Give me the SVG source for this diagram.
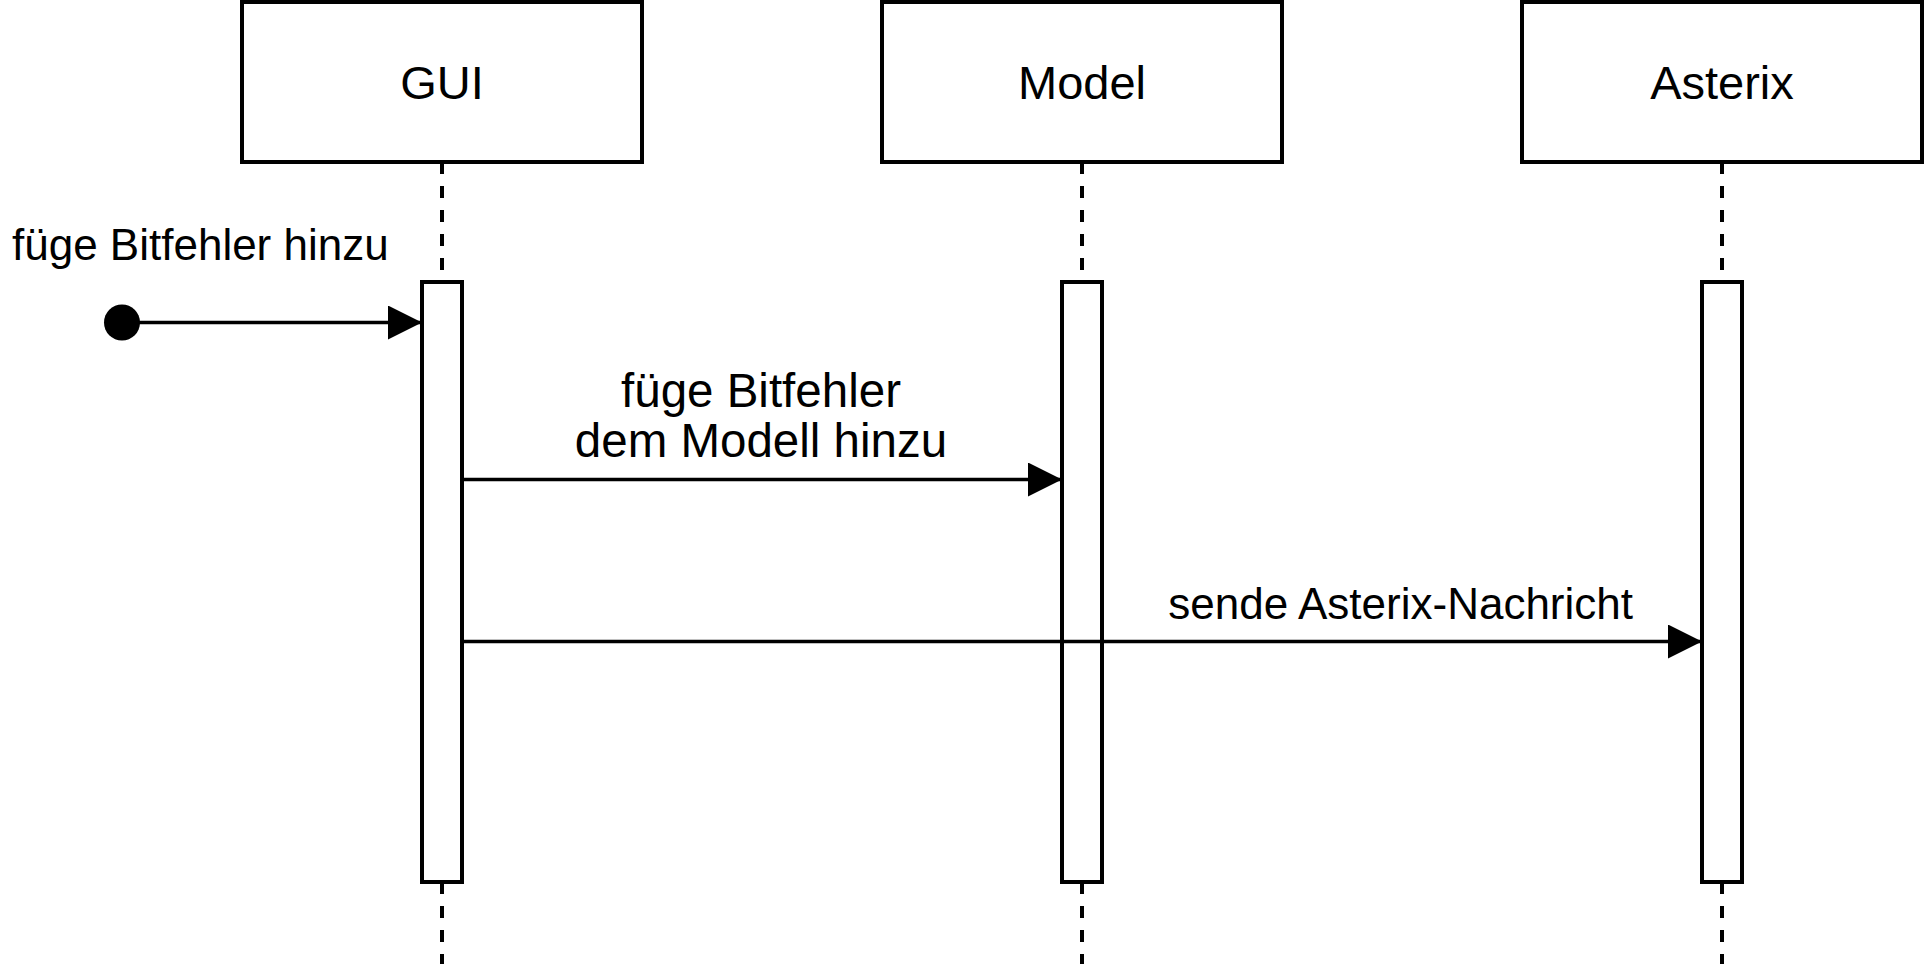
<svg xmlns="http://www.w3.org/2000/svg" width="1924" height="964" viewBox="0 0 1924 964">
  <style>
    .box { fill: #ffffff; stroke: #000000; stroke-width: 4; }
    .act { fill: #ffffff; stroke: #000000; stroke-width: 4; }
    .life { stroke: #000000; stroke-width: 4; stroke-dasharray: 12 12; fill: none; }
    .msg { stroke: #000000; stroke-width: 3.5; fill: none; marker-end: url(#arrow); }
    .hdr { font-family: "Liberation Sans", Arial, sans-serif; font-size: 47px; fill: #000000; text-anchor: middle; }
    .lbl { font-family: "Liberation Sans", Arial, sans-serif; font-size: 44px; fill: #000000; }
    .lbl2 { font-family: "Liberation Sans", Arial, sans-serif; font-size: 47.5px; fill: #000000; text-anchor: middle; }
  </style>
  <defs>
    <marker id="arrow" markerUnits="userSpaceOnUse" markerWidth="34" markerHeight="34" refX="34" refY="17" orient="auto">
      <path d="M0,0 L34,17 L0,34 Z" fill="#000000"/>
    </marker>
  </defs>
  <rect width="1924" height="964" fill="#ffffff"/>

  <g id="lifelines">
    <line class="life" x1="442" y1="162" x2="442" y2="964"/>
    <line class="life" x1="1082" y1="162" x2="1082" y2="964"/>
    <line class="life" x1="1722" y1="162" x2="1722" y2="964"/>
  </g>

  <g id="node-gui">
    <rect class="box" x="242" y="2" width="400" height="160"/>
    <text class="hdr" x="442" y="99">GUI</text>
    <rect class="act" x="422" y="282" width="40" height="600"/>
  </g>
  <g id="node-model">
    <rect class="box" x="882" y="2" width="400" height="160"/>
    <text class="hdr" x="1082" y="99">Model</text>
    <rect class="act" x="1062" y="282" width="40" height="600"/>
  </g>
  <g id="node-asterix">
    <rect class="box" x="1522" y="2" width="400" height="160"/>
    <text class="hdr" x="1722" y="99">Asterix</text>
    <rect class="act" x="1702" y="282" width="40" height="600"/>
  </g>
  <g id="node-start">
    <circle cx="122" cy="322.5" r="18" fill="#000000"/>
  </g>

  <g id="connectors">
    <line class="msg" x1="122" y1="322.5" x2="422" y2="322.5"/>
    <text class="lbl" x="12" y="260">füge Bitfehler hinzu</text>
    <line class="msg" x1="462" y1="479.5" x2="1062" y2="479.5"/>
    <text class="lbl2" x="761" y="407">füge Bitfehler</text>
    <text class="lbl2" x="761" y="457">dem Modell hinzu</text>
    <line class="msg" x1="462" y1="641.5" x2="1702" y2="641.5"/>
    <text class="lbl" x="1633" y="619" text-anchor="end">sende Asterix-Nachricht</text>
  </g>
</svg>
